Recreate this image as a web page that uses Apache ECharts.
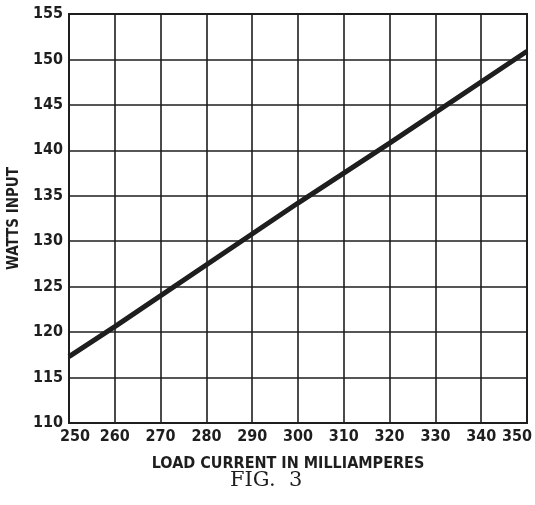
<!DOCTYPE html>
<html>
<head>
<meta charset="utf-8">
<script src="https://cdn.jsdelivr.net/npm/echarts@6/dist/echarts.min.js"></script>
<style>
  html, body { margin: 0; padding: 0; background: #fff; }
  #chart { width: 535px; height: 505px; }
</style>
</head>
<body>
<div id="chart"></div>
<script>
// Load current (mA) against plate watts input
const loadCurrent = [250, 260, 300, 320, 350];
const wattsInput = [117.3, 120.6, 134.2, 140.8, 150.9];
const xTicks = [250, 260, 270, 280, 290, 300, 310, 320, 330, 340, 350];
const yTicks = [110, 115, 120, 125, 130, 135, 140, 145, 150, 155];

const ink = '#1e1e1e';
const labelFont = "'Liberation Sans Narrow', 'DejaVu Sans Condensed', 'Liberation Sans', sans-serif";
const tickText = { color: ink, fontFamily: labelFont, fontSize: 16, fontWeight: 'bold' };

const chart = echarts.init(document.getElementById('chart'));
chart.setOption({
  animation: false,
  backgroundColor: '#fff',
  grid: { left: 69, right: 8, top: 14, bottom: 82, containLabel: false, outerBoundsMode: 'none' },
  xAxis: {
    type: 'value',
    min: xTicks[0], max: xTicks[xTicks.length - 1], interval: 10,
    name: 'LOAD CURRENT IN MILLIAMPERES',
    nameLocation: 'middle', nameGap: 33,
    nameTextStyle: { color: ink, fontFamily: labelFont, fontSize: 16, fontWeight: 'bold', padding: [0, 20, 0, 0] },
    axisLine: { show: true, lineStyle: { color: ink, width: 2 } },
    axisTick: { show: false },
    axisLabel: Object.assign({}, tickText, {
      margin: 6,
      // the first and last labels are nudged inward so they stay on the page
      formatter: v => v === xTicks[xTicks.length - 1] ? '{last|' + v + '}'
        : v === xTicks[0] ? '{first|' + v + '}' : String(v),
      rich: {
        last: Object.assign({}, tickText, { padding: [0, 20, 0, 0] }),
        first: Object.assign({}, tickText, { padding: [0, 0, 0, 12] })
      }
    }),
    splitLine: { show: true, lineStyle: { color: ink, width: 1.6 } }
  },
  yAxis: {
    type: 'value',
    min: yTicks[0], max: yTicks[yTicks.length - 1], interval: 5,
    name: 'WATTS INPUT',
    nameLocation: 'middle', nameGap: 44, nameRotate: 90,
    nameTextStyle: { color: ink, fontFamily: labelFont, fontSize: 15, fontWeight: 'bold' },
    axisLine: { show: true, lineStyle: { color: ink, width: 2 } },
    axisTick: { show: false },
    axisLabel: Object.assign({}, tickText, { margin: 6 }),
    splitLine: { show: true, lineStyle: { color: ink, width: 1.6 } }
  },
  graphic: [
    {
      type: 'rect', shape: { x: 69, y: 14, width: 458, height: 409 },
      style: { fill: 'none', stroke: ink, lineWidth: 2 }, silent: true
    },
    {
      type: 'text', left: 230, top: 470,
      style: { text: 'FIG.  3', fill: ink, font: "21px 'DejaVu Serif', 'Liberation Serif', serif" }
    }
  ],
  series: [{
    type: 'line',
    data: loadCurrent.map((x, i) => [x, wattsInput[i]]),
    showSymbol: false,
    lineStyle: { color: ink, width: 5 },
    clip: true
  }]
});
</script>
</body>
</html>
